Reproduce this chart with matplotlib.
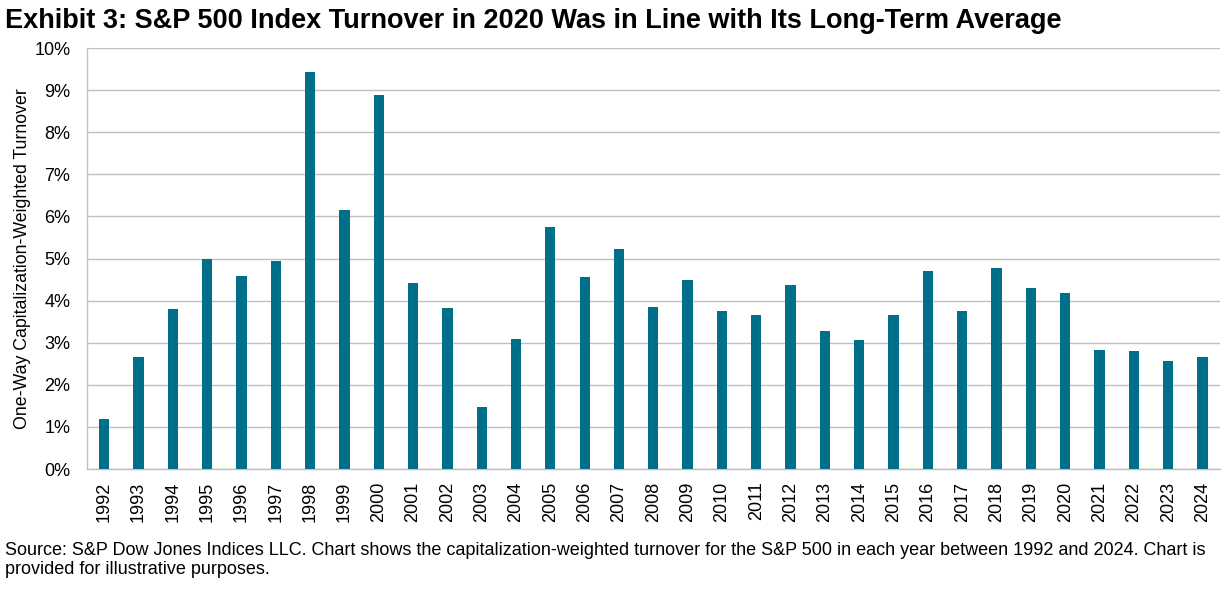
import matplotlib.pyplot as plt
from matplotlib.ticker import FuncFormatter

plt.rcParams['font.family'] = ['Liberation Sans', 'DejaVu Sans']

# Turnover by year (%)
years = [str(y) for y in range(1992, 2025)]
turnover = [1.18, 2.65, 3.80, 5.00, 4.58, 4.93, 9.43, 6.16, 8.88, 4.43,
            3.82, 1.47, 3.10, 5.74, 4.55, 5.22, 3.86, 4.48, 3.75, 3.65,
            4.36, 3.27, 3.06, 3.65, 4.70, 3.75, 4.77, 4.29, 4.17, 2.82,
            2.80, 2.56, 2.67]

fig = plt.figure(figsize=(12.27, 5.89), dpi=100)
ax = fig.add_axes([0.0709, 0.2037, 0.9231, 0.7148])

x = range(len(years))
ax.bar(x, turnover, width=0.3, color='#006F8A', zorder=3)

ax.set_xlim(-0.5, len(years) - 0.5)
ax.set_ylim(0, 10)
ax.set_yticks(range(0, 11))
ax.yaxis.set_major_formatter(FuncFormatter(lambda v, p: f'{int(v)}%'))
ax.set_xticks(list(x))
ax.set_xticklabels(years, rotation=90, fontsize=13)
ax.tick_params(axis='y', labelsize=13, length=0, pad=12)
ax.tick_params(axis='x', length=0, pad=9)

ax.grid(axis='y', color='#C0C0C0', linewidth=1, zorder=0)
for s in ['top', 'right']:
    ax.spines[s].set_visible(False)
for s in ['left', 'bottom']:
    ax.spines[s].set_color('#C0C0C0')
    ax.spines[s].set_linewidth(1)

ax.set_ylabel('One-Way Capitalization-Weighted Turnover', fontsize=12.8, labelpad=2.5)

fig.text(0.004, 0.965, 'Exhibit 3: S&P 500 Index Turnover in 2020 Was in Line with Its Long-Term Average',
         fontsize=19.5, fontweight='bold', va='center', ha='left')
fig.text(0.004, 0.049, 'Source: S&P Dow Jones Indices LLC. Chart shows the capitalization-weighted turnover '
         'for the S&P 500 in each year between 1992 and 2024. Chart is\nprovided for illustrative purposes.',
         fontsize=13, va='center', ha='left', linespacing=1.2)

plt.savefig('out.png', dpi=100)
